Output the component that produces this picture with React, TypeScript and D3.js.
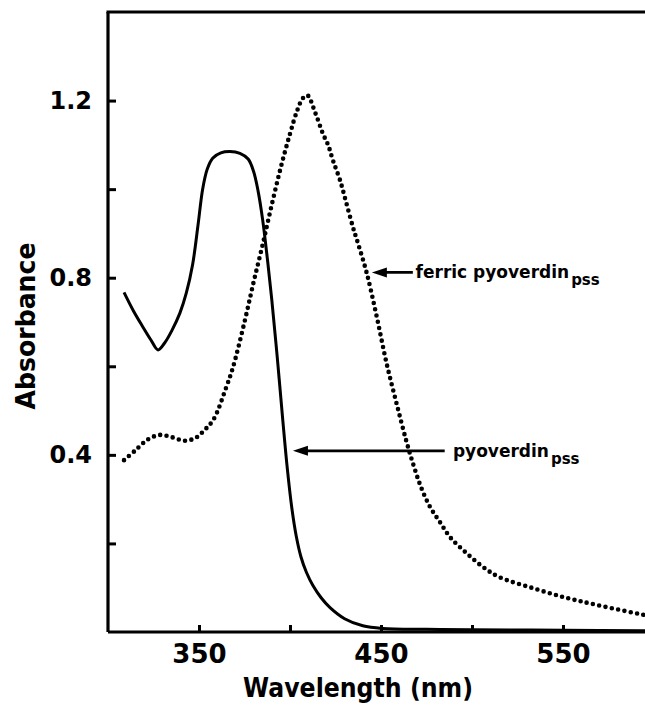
import React, { useRef, useEffect } from 'react';
import * as d3 from 'd3';

// pyoverdin (solid line)
const wavePyoverdin = [308.8, 314, 319, 323.5, 327.5, 331, 335, 339.5, 343, 346.5, 349.5, 352, 354.5, 357.5, 362, 367, 372.5, 377, 380, 382.5, 385, 387.5, 390, 393, 396, 398.5, 401, 403.5, 406, 409, 412.6, 417, 422, 430, 440, 451, 475, 500, 550, 600];
const absPyoverdin = [0.767, 0.725, 0.69, 0.66, 0.637, 0.652, 0.68, 0.72, 0.765, 0.83, 0.92, 1.0, 1.045, 1.07, 1.082, 1.085, 1.081, 1.068, 1.04, 0.995, 0.93, 0.845, 0.75, 0.62, 0.48, 0.37, 0.28, 0.215, 0.17, 0.135, 0.105, 0.078, 0.055, 0.03, 0.014, 0.008, 0.006, 0.005, 0.004, 0.003];

// ferric pyoverdin (dotted line)
const waveFerric = [308.8, 315, 322, 328.6, 335, 342, 348, 353, 358, 365, 368.7, 375, 380, 385, 390, 395, 400, 404, 407, 409.5, 414, 418, 421, 423.6, 427.5, 431, 434.6, 436.8, 442, 447.6, 453, 458.8, 464, 468, 472, 477, 482.4, 488, 497, 506, 515, 533.5, 552, 568.7, 595];
const absFerric = [0.388, 0.41, 0.435, 0.445, 0.44, 0.432, 0.438, 0.456, 0.48, 0.553, 0.598, 0.70, 0.79, 0.875, 0.965, 1.05, 1.125, 1.178, 1.205, 1.212, 1.171, 1.126, 1.099, 1.065, 1.02, 0.968, 0.914, 0.885, 0.813, 0.713, 0.608, 0.512, 0.43, 0.375, 0.327, 0.282, 0.248, 0.214, 0.178, 0.147, 0.124, 0.099, 0.077, 0.061, 0.038];

const xTicks = [350, 400, 450, 500, 550];
const xTickLabels = ['350', '', '450', '', '550'];
const yTicks = [0.2, 0.4, 0.6, 0.8, 1.0, 1.2];
const yTickLabels = ['', '0.4', '', '0.8', '', '1.2'];

// arrows: tip (wavelength, absorbance), tail wavelength, label start wavelength
const noteLabels = ['ferric pyoverdin', 'pyoverdin'];
const noteTips = [[445, 0.812], [401.6, 0.409]];
const noteTails = [467.5, 485];
const noteTextX = [469, 489.5];

const FONT = '"DejaVu Sans", "Liberation Sans", sans-serif';

const App = () => {
  const svgRef = useRef<SVGSVGElement>(null);

  useEffect(() => {
    const width = 645;
    const height = 711;
    const left = 108;
    const top = 12;
    const bottom = 632;

    const svg = d3.select(svgRef.current).attr('width', width).attr('height', height);
    svg.selectAll('*').remove();

    const x = d3.scaleLinear().domain([300, 600]).range([left, left + 6 * 91]);
    const y = d3.scaleLinear().domain([0, 1.4]).range([bottom, top]);

    const line = d3
      .line<[number, number]>()
      .x(d => x(d[0]))
      .y(d => y(d[1]))
      .curve(d3.curveCatmullRom.alpha(0.5));

    const solid = wavePyoverdin.map((w, i) => [w, absPyoverdin[i]] as [number, number]);
    const dotted = waveFerric.map((w, i) => [w, absFerric[i]] as [number, number]);

    svg
      .append('path')
      .attr('d', line(solid))
      .attr('fill', 'none')
      .attr('stroke', '#000')
      .attr('stroke-width', 3);

    svg
      .append('path')
      .attr('d', line(dotted))
      .attr('fill', 'none')
      .attr('stroke', '#000')
      .attr('stroke-width', 4.6)
      .attr('stroke-linecap', 'round')
      .attr('stroke-dasharray', '0 6.4');

    // axes
    const xAxis = d3
      .axisBottom(x)
      .tickValues(xTicks)
      .tickSizeInner(-7)
      .tickSizeOuter(0)
      .tickPadding(13)
      .tickFormat((d, i) => xTickLabels[i]);

    const yAxis = d3
      .axisLeft(y)
      .tickValues(yTicks)
      .tickSizeInner(-8)
      .tickSizeOuter(0)
      .tickPadding(16)
      .tickFormat((d, i) => yTickLabels[i]);

    const gx = svg.append('g').attr('transform', `translate(0,${bottom})`).call(xAxis);
    const gy = svg.append('g').attr('transform', `translate(${left},0)`).call(yAxis);

    gx.select('.domain').attr('d', `M${left},0H${width}`);
    gy.select('.domain').attr('d', `M0,${top}V${bottom}`);

    [gx, gy].forEach(g => {
      g.select('.domain').attr('stroke-width', 3.2).attr('stroke', '#000');
      g.selectAll('.tick line').attr('stroke-width', 3).attr('stroke', '#000');
      g.selectAll('.tick text')
        .attr('fill', '#000')
        .style('font-family', FONT)
        .style('font-weight', 'bold');
    });
    gx.selectAll('.tick text').style('font-size', '26px');
    gy.selectAll('.tick text').style('font-size', '24px');

    // top border
    svg
      .append('line')
      .attr('x1', left - 1.5)
      .attr('x2', width)
      .attr('y1', top)
      .attr('y2', top)
      .attr('stroke', '#000')
      .attr('stroke-width', 3.2);

    // axis titles
    svg
      .append('text')
      .attr('x', 358)
      .attr('y', 697)
      .attr('text-anchor', 'middle')
      .attr('textLength', 230)
      .attr('lengthAdjust', 'spacingAndGlyphs')
      .style('font-family', FONT)
      .style('font-weight', 'bold')
      .style('font-size', '26px')
      .text('Wavelength (nm)');

    svg
      .append('text')
      .attr('transform', 'translate(35,326) rotate(-90)')
      .attr('text-anchor', 'middle')
      .attr('textLength', 167)
      .attr('lengthAdjust', 'spacingAndGlyphs')
      .style('font-family', FONT)
      .style('font-weight', 'bold')
      .style('font-size', '26px')
      .text('Absorbance');

    // annotations
    noteLabels.forEach((label, i) => {
      const tx = x(noteTips[i][0]);
      const ty = y(noteTips[i][1]);
      const ex = x(noteTails[i]);
      svg
        .append('line')
        .attr('x1', tx + 8)
        .attr('x2', ex)
        .attr('y1', ty)
        .attr('y2', ty)
        .attr('stroke', '#000')
        .attr('stroke-width', 2.8);
      svg
        .append('path')
        .attr('d', `M${tx},${ty}L${tx + 15},${ty - 5}L${tx + 15},${ty + 5}Z`)
        .attr('fill', '#000');

      const t = svg
        .append('text')
        .attr('x', x(noteTextX[i]))
        .attr('y', ty + 6)
        .style('font-family', FONT)
        .style('font-weight', 'bold')
        .style('font-size', '17px');
      t.append('tspan').text(label);
      t.append('tspan').attr('dy', 7).attr('dx', 2).style('font-size', '15px').text('pss');
    });
  }, []);

  return (
    <div style={{ position: 'absolute', left: 0, top: 0, width: 645, height: 711, background: '#fff' }}>
      <svg ref={svgRef} style={{ display: 'block' }}></svg>
    </div>
  );
};

export default App;
